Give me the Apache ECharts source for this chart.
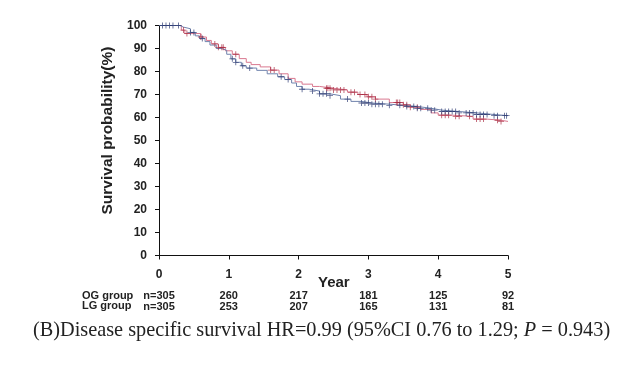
<!DOCTYPE html>
<html><head><meta charset="utf-8">
<script src="https://cdn.jsdelivr.net/npm/echarts@6/dist/echarts.min.js"></script>
<style>html,body{margin:0;padding:0;background:#fff}#c{width:632px;height:372px}</style>
</head><body><div id="c"></div>
<script>
// ---- data ----
const years = [0, 1, 2, 3, 4, 5];
const yTicks = [0,10,20,30,40,50,60,70,80,90,100];
const ogCurve = [[0,100],[0.25,100],[0.3,99.3],[0.35,98.6],[0.45,97],[0.52,95.5],[0.58,94.3],[0.66,93],[0.73,91.5],[0.82,90],[0.9,89.2],[0.97,87.5],[1.03,85.5],[1.1,84],[1.18,82.5],[1.25,81.5],[1.4,80.5],[1.55,79],[1.7,77.7],[1.8,76.5],[1.9,75],[1.97,73.5],[2.05,72.3],[2.15,71.5],[2.3,70.3],[2.45,69.5],[2.6,68],[2.75,67],[2.9,66.3],[3.05,65.8],[3.3,65.3],[3.5,64.8],[3.7,64],[3.9,63.2],[4.05,62.6],[4.3,62],[4.55,61.3],[4.8,60.8],[5,60.8]];
const lgCurve = [[0,100],[0.25,100],[0.32,98],[0.37,96.5],[0.6,95],[0.68,93.5],[0.75,92],[0.85,90.5],[0.95,89],[1.05,87.5],[1.15,85.6],[1.25,84],[1.32,83],[1.45,82],[1.6,80.6],[1.72,79],[1.85,77],[1.95,75.5],[2.05,74.5],[2.2,73.5],[2.3,72.7],[2.5,72],[2.7,71],[2.85,70],[2.98,69],[3.1,68],[3.3,66.5],[3.5,65.5],[3.6,64.5],[3.75,63.5],[3.9,62],[4.0,61],[4.2,60.5],[4.5,59.3],[4.7,58.8],[4.9,58.3],[5,58.3]];
const ogCensor = [0.05,0.1,0.15,0.2,0.28,0.45,0.5,0.62,1.05,1.1,1.2,1.3,1.75,1.85,2.05,2.2,2.3,2.35,2.4,2.45,2.7,2.9,2.95,3.0,3.05,3.1,3.15,3.2,3.3,3.45,3.55,3.65,3.7,3.75,3.85,3.9,3.95,4.05,4.1,4.15,4.2,4.25,4.3,4.4,4.45,4.5,4.55,4.6,4.65,4.7,4.8,4.85,4.95,4.98];
const lgCensor = [0.35,0.4,0.6,0.8,0.85,0.9,0.92,1.1,1.6,1.65,2.4,2.42,2.45,2.5,2.55,2.6,2.65,2.75,2.8,2.88,2.95,3.0,3.05,3.1,3.4,3.42,3.45,3.5,3.55,3.6,3.7,4.05,4.1,4.15,4.25,4.3,4.45,4.55,4.6,4.65,4.85,4.9];
const ogRisk = ['n=305','260','217','181','125','92'];
const lgRisk = ['n=305','253','207','165','131','81'];
const groupNames = ['OG group','LG group'];
const yName = 'Survival probability(%)';
const xName = 'Year';

// ---- helpers ----
function survAt(curve, t){ let v = curve[0][1]; for (const p of curve){ if (p[0] <= t) v = p[1]; } return v; }
const plus = 'path://M0,4.3H10V5.7H0Z M4.3,0H5.7V10H4.3Z';
const F = '"Liberation Sans Narrow","Liberation Sans",Arial,sans-serif';
const SERIF = '"Liberation Serif","Times New Roman",serif';
const blueLine = '#7083ad', blueMark = '#2c3a72';
const redLine = '#d9788f', redMark = '#a8283f';

const chart = echarts.init(document.getElementById('c'));
function riskAxis(arr, off){
  return {type:'value', min:0, max:5, interval:1, position:'bottom', offset:off,
    axisLine:{show:false}, axisTick:{show:false}, splitLine:{show:false},
    axisLabel:{margin:0, fontFamily:F, fontWeight:'bold', fontSize:11, color:'#222',
      formatter:v=>arr[Math.round(v)] }};
}
chart.setOption({
  animation:false,
  grid:{left:159, right:124, top:25.5, bottom:116.5},
  xAxis:[
    {type:'value', min:0, max:5, interval:1, offset:3,
     axisLine:{lineStyle:{color:'#111', width:1}}, axisTick:{length:4, lineStyle:{color:'#111'}},
     splitLine:{show:false},
     axisLabel:{margin:10, fontFamily:F, fontWeight:'bold', fontSize:12, color:'#222'}},
    riskAxis(ogRisk, 35), riskAxis(lgRisk, 45.5)
  ],
  yAxis:{type:'value', min:0, max:100, interval:10, offset:3,
    axisLine:{show:true, lineStyle:{color:'#111', width:1}}, axisTick:{show:true, length:4, lineStyle:{color:'#111'}},
    splitLine:{show:false},
    axisLabel:{margin:9, fontFamily:F, fontWeight:'bold', fontSize:12, color:'#222'},
    name:yName, nameLocation:'middle', nameGap:35, nameRotate:90,
    nameTextStyle:{fontFamily:F, fontWeight:'bold', fontSize:15.5, color:'#222', padding:[0,0,0,20]}},
  graphic:[
    {type:'text', left:318, top:275, style:{text:xName, font:'bold 15px '+F, fill:'#222'}},
    {type:'text', left:82, top:290, style:{text:groupNames[0], font:'bold 11px '+F, fill:'#222'}},
    {type:'text', left:82, top:300.5, style:{text:groupNames[1], font:'bold 11px '+F, fill:'#222'}},
    {type:'text', left:33, top:321, style:{
      rich:{n:{fontFamily:SERIF, fontSize:20.3, fill:'#222', fontWeight:'normal'},
            i:{fontFamily:SERIF, fontSize:20.3, fill:'#222', fontStyle:'italic'}},
      text:'{n|(B)Disease specific survival HR=0.99 (95%CI 0.76 to 1.29; }{i|P}{n| = 0.943)}'}}
  ],
  series:[
    {type:'line', step:'end', data:lgCurve, showSymbol:false, lineStyle:{color:redLine, width:1}, z:2},
    {type:'line', step:'end', data:ogCurve, showSymbol:false, lineStyle:{color:blueLine, width:1}, z:2},
    {type:'scatter', data:lgCensor.map(t=>[t, survAt(lgCurve,t)]), symbol:plus, symbolSize:6, itemStyle:{color:redMark}, z:3},
    {type:'scatter', data:ogCensor.map(t=>[t, survAt(ogCurve,t)]), symbol:plus, symbolSize:6, itemStyle:{color:blueMark}, z:3}
  ]
});
</script></body></html>
